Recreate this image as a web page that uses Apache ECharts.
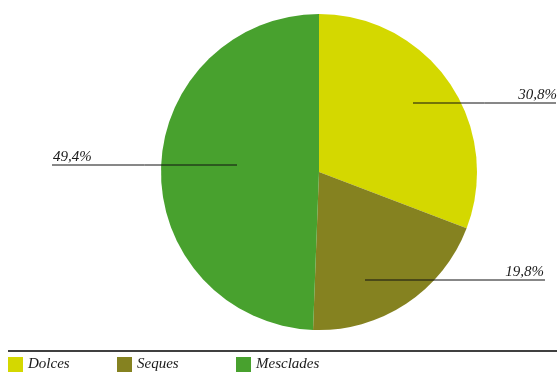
<!DOCTYPE html>
<html>
<head>
<meta charset="utf-8">
<script src="https://cdn.jsdelivr.net/npm/echarts@6/dist/echarts.min.js"></script>
<style>html,body{margin:0;padding:0;background:#fff}#c{width:557px;height:374px}</style>
</head>
<body>
<div id="c"></div>
<script>
const categories = ['Dolces', 'Seques', 'Mesclades'];
const values = [30.8, 19.8, 49.4];
const colors = ['#d4d800', '#858220', '#48a12e'];
// label layout: [lineStartX, lineEndX, lineY, textX, align]
const labelPlaces = [
  [413, 556, 103, 557, 'right'],
  [365, 545, 280, 544, 'right'],
  [52, 237, 165, 53, 'left']
];
const fmt = v => v.toFixed(1).replace('.', ',') + '%';
const chart = echarts.init(document.getElementById('c'), null, {renderer: 'canvas'});
const font = {fontFamily: 'Liberation Serif', fontStyle: 'italic', fontSize: 15, color: '#1a1a1a'};
const legendLefts = [8, 117, 236];
const pieBase = {
  type: 'pie', center: [319, 172], radius: 158, startAngle: 90, clockwise: true,
  emphasis: {disabled: true}, silent: true
};
chart.setOption({
  animation: false,
  legend: categories.map((c, i) => ({
    data: [c], left: legendLefts[i], top: 357, itemWidth: 15, itemHeight: 15, itemGap: 0,
    padding: 0, icon: 'rect', textStyle: Object.assign({}, font, {padding: [0, 0, 0, 0]}), selectedMode: false
  })),
  graphic: [{type: 'line', shape: {x1: 8, y1: 351, x2: 557, y2: 351}, style: {stroke: '#000', lineWidth: 1.5}}],
  series: [
    Object.assign({}, pieBase, {
      z: 2,
      data: categories.map((c, i) => ({name: c, value: values[i], itemStyle: {color: colors[i]}})),
      label: {show: false}, labelLine: {show: false}
    }),
    Object.assign({}, pieBase, {
      z: 5,
      data: categories.map((c, i) => ({name: c, value: values[i], itemStyle: {color: 'rgba(0,0,0,0)'}})),
      label: Object.assign({show: true, formatter: p => fmt(p.value)}, font),
      labelLine: {show: true, lineStyle: {color: '#111', width: 1}},
      labelLayout: function (params) {
        const p = labelPlaces[params.dataIndex];
        return {
          x: p[3], y: p[2] - 8, align: p[4], verticalAlign: 'middle',
          labelLinePoints: [[p[0], p[2]], [(p[0] + p[1]) / 2, p[2]], [p[1], p[2]]]
        };
      }
    })
  ]
});
</script>
</body>
</html>
